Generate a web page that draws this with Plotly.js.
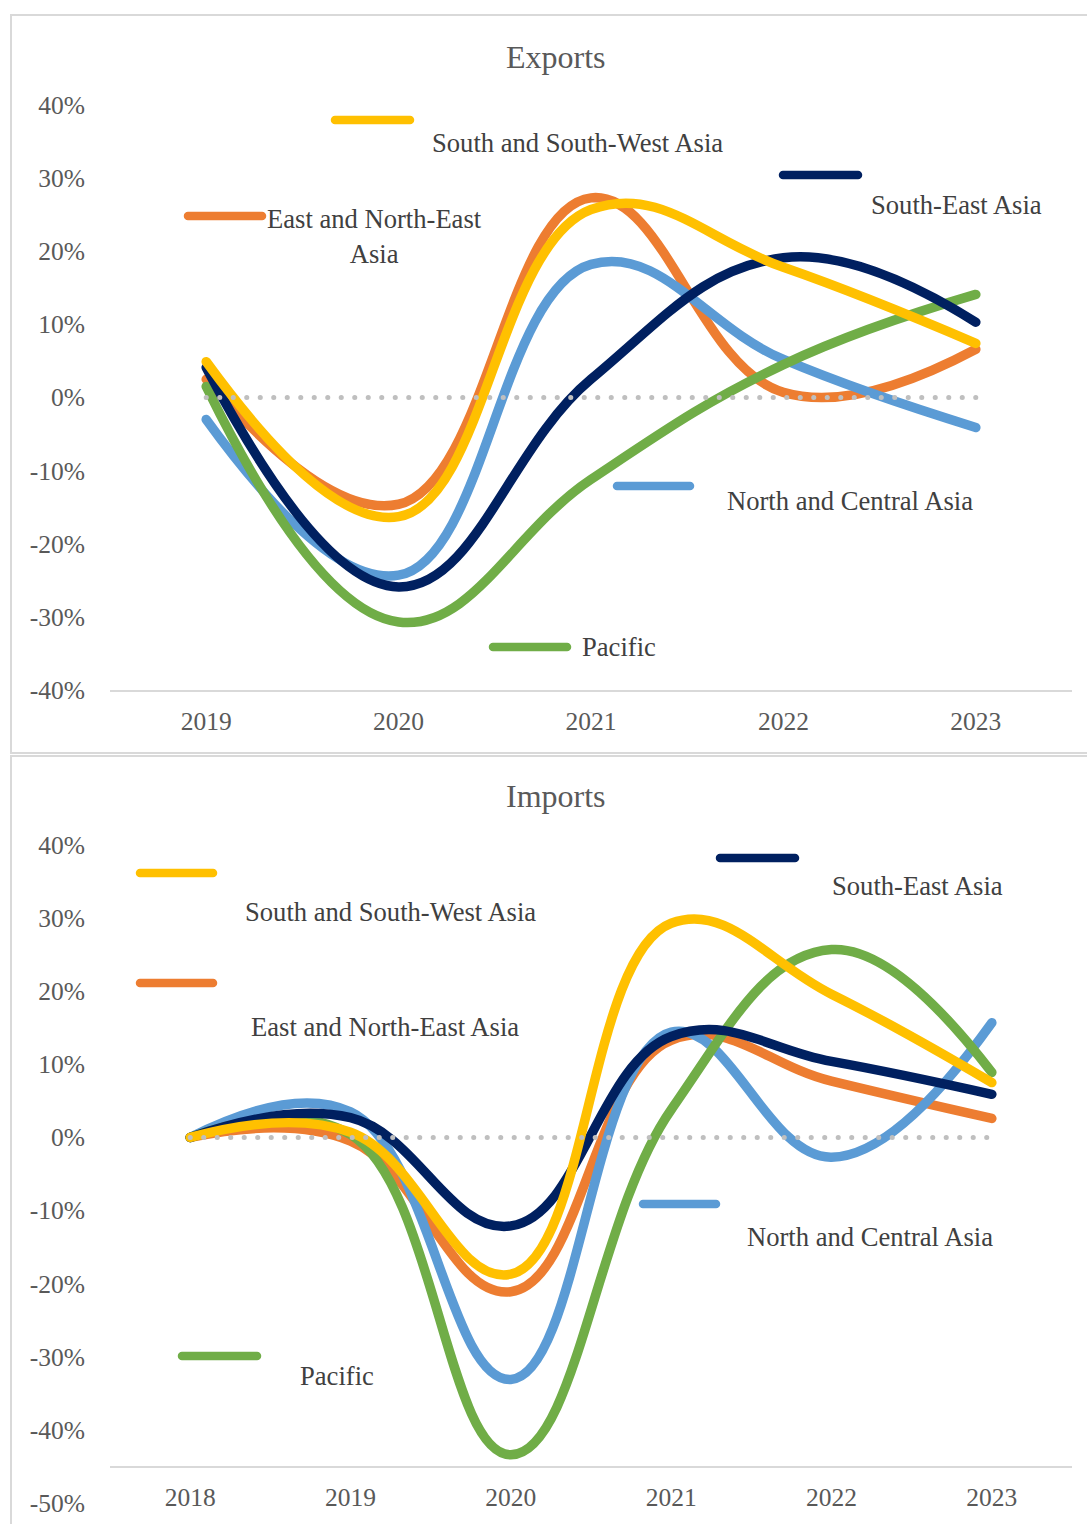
<!DOCTYPE html>
<html><head><meta charset="utf-8">
<script src="https://cdn.plot.ly/plotly-3.0.1.min.js"></script>
<style>html,body{margin:0;padding:0;background:#fff}</style>
</head><body><div id="chart" style="width:1087px;height:1524px"></div>
<script>
// ---- data ----
const exportYears = ['2019', '2020', '2021', '2022', '2023'];
const importYears = ['2018', '2019', '2020', '2021', '2022', '2023'];
const regions = ['East and North-East Asia', 'North and Central Asia', 'Pacific', 'South-East Asia', 'South and South-West Asia'];
const colors = ['#ED7D31', '#5B9BD5', '#70AD47', '#002060', '#FFC000'];
// Exports growth (%)
const expENEA = [2.5, -14.6, 27.3, 0.7, 6.6];
const expNCA = [-3.0, -24.3, 18.2, 5.2, -4.1];
const expPAC = [1.5, -30.7, -11.2, 4.5, 14.1];
const expSEA = [4.1, -25.9, 2.5, 19.1, 10.3];
const expSSWA = [4.9, -16.3, 25.7, 17.8, 7.4];
// Imports growth (%)
const impENEA = [0, -0.5, -21.1, 13.3, 7.7, 2.6];
const impNCA = [0, 3.5, -33.1, 14.4, -2.7, 15.7];
const impPAC = [0, 0.4, -43.4, 3.8, 25.7, 8.9];
const impSEA = [0, 2.7, -12.1, 13.8, 10.4, 5.9];
const impSSWA = [0, 0.7, -18.7, 29.3, 19.6, 7.5];
const expTickVals = [-40, -30, -20, -10, 0, 10, 20, 30, 40];
const expTickText = ['-40%', '-30%', '-20%', '-10%', '0%', '10%', '20%', '30%', '40%'];
const impTickVals = [-50, -40, -30, -20, -10, 0, 10, 20, 30, 40];
const impTickText = ['-50%', '-40%', '-30%', '-20%', '-10%', '0%', '10%', '20%', '30%', '40%'];

// ---- layout helpers ----
const W = 1087, H = 1524;
const px = x => x / W;
const py = y => 1 - y / H;
const TXT = '#595959';
const LTXT = '#404040';
const FONT = 'Liberation Serif, Times New Roman, serif';
const FS = 25.5;
const LFS = 26.6;
const LW = 9.5;
const SMOOTH = 1.2;

const expSeries = [expENEA, expNCA, expPAC, expSEA, expSSWA];
const impSeries = [impENEA, impNCA, impPAC, impSEA, impSSWA];

const traces = [];
expSeries.forEach((s, i) => traces.push({
  type: 'scatter', mode: 'lines', x: exportYears, y: s, name: regions[i],
  xaxis: 'x', yaxis: 'y', line: {color: colors[i], width: LW, shape: 'spline', smoothing: SMOOTH}, showlegend: false, hoverinfo: 'skip'
}));
traces.push({type: 'scatter', mode: 'lines', x: exportYears, y: exportYears.map(() => 0), xaxis: 'x', yaxis: 'y',
  line: {color: '#BFBFBF', width: 5, dash: '5px,8px'}, showlegend: false, hoverinfo: 'skip'});
impSeries.forEach((s, i) => traces.push({
  type: 'scatter', mode: 'lines', x: importYears, y: s, name: regions[i],
  xaxis: 'x2', yaxis: 'y2', line: {color: colors[i], width: LW, shape: 'spline', smoothing: SMOOTH}, showlegend: false, hoverinfo: 'skip'
}));
traces.push({type: 'scatter', mode: 'lines', x: importYears, y: importYears.map(() => 0), xaxis: 'x2', yaxis: 'y2',
  line: {color: '#BFBFBF', width: 5, dash: '5px,8px'}, showlegend: false, hoverinfo: 'skip'});

// legend placements: [lineX0, lineX1, lineY, textX, textY, anchor, label]
const expLegend = [
  [188, 262, 216, 374, 237, 'center', 'East and North-East<br>Asia'],
  [617, 690, 486, 725, 501, 'left', regions[1]],
  [493, 567, 647, 580, 647, 'left', regions[2]],
  [783, 858, 175, 869, 205, 'left', regions[3]],
  [335, 410, 120, 430, 143, 'left', regions[4]]
];
const impLegend = [
  [140, 213, 983, 249, 1027, 'left', regions[0]],
  [643, 716, 1204, 745, 1237, 'left', regions[1]],
  [182, 257, 1356, 298, 1376, 'left', regions[2]],
  [720, 795, 858, 830, 886, 'left', regions[3]],
  [140, 213, 873, 243, 912, 'left', regions[4]]
];

const shapes = [
  {type: 'rect', xref: 'paper', yref: 'paper', x0: px(11), x1: px(1095), y0: py(15), y1: py(753), line: {color: '#D9D9D9', width: 2}},
  {type: 'rect', xref: 'paper', yref: 'paper', x0: px(11), x1: px(1095), y0: py(756), y1: py(1535), line: {color: '#D9D9D9', width: 2}}
];
const annotations = [
  {xref: 'paper', yref: 'paper', x: px(556), y: py(57), text: 'Exports', showarrow: false, xanchor: 'center', yanchor: 'middle', font: {family: FONT, size: 32, color: TXT}},
  {xref: 'paper', yref: 'paper', x: px(556), y: py(796), text: 'Imports', showarrow: false, xanchor: 'center', yanchor: 'middle', font: {family: FONT, size: 32, color: TXT}}
];
[expLegend, impLegend].forEach(leg => leg.forEach((l, i) => {
  const c = colors[i];
  shapes.push({type: 'line', xref: 'paper', yref: 'paper', x0: px(l[0]), x1: px(l[1]), y0: py(l[2]), y1: py(l[2]), line: {color: c, width: 8.5}});
  annotations.push({xref: 'paper', yref: 'paper', x: px(l[3]), y: py(l[4]), text: l[6], showarrow: false,
    xanchor: l[5], yanchor: 'middle', align: 'center', font: {family: FONT, size: LFS, color: LTXT}});
}));

const axisFont = {family: FONT, size: FS, color: TXT};
const layout = {
  width: W, height: H, margin: {l: 0, r: 0, t: 0, b: 0},
  paper_bgcolor: '#fff', plot_bgcolor: 'rgba(0,0,0,0)', showlegend: false,
  xaxis: {domain: [px(110), px(1072)], anchor: 'y', type: 'category', range: [-0.5, 4.5], showline: true, linecolor: '#D9D9D9', linewidth: 2,
    ticks: '', showgrid: false, zeroline: false, tickfont: axisFont, ticklabelstandoff: 7, fixedrange: true},
  yaxis: {domain: [py(690), py(105)], anchor: 'x', range: [-40, 40], showline: false, showgrid: false, zeroline: false, ticks: '',
    tickvals: expTickVals, ticktext: expTickText, tickfont: axisFont, ticklabelstandoff: 24, fixedrange: true},
  xaxis2: {domain: [px(110), px(1072)], anchor: 'free', position: py(1467), type: 'category', range: [-0.5, 5.5], showline: true, linecolor: '#D9D9D9', linewidth: 2,
    ticks: '', showgrid: false, zeroline: false, tickfont: axisFont, ticklabelstandoff: 7, fixedrange: true},
  yaxis2: {domain: [py(1503), py(845)], anchor: 'x2', range: [-50, 40], showline: false, showgrid: false, zeroline: false, ticks: '',
    tickvals: impTickVals, ticktext: impTickText, tickfont: axisFont, ticklabelstandoff: 24, fixedrange: true},
  shapes: shapes, annotations: annotations
};

Plotly.newPlot('chart', traces, layout, {staticPlot: true, displayModeBar: false}).then(gd => {
  document.querySelectorAll('.scatterlayer .js-line').forEach(p => {
    p.style.strokeLinecap = 'round';
    if (p.style.stroke && p.style.stroke.replace(/\s/g, '') === 'rgb(191,191,191)') {
      p.style.strokeDasharray = '0.1px,13.4px';
    }
  });
  document.querySelectorAll('.shapelayer path').forEach(p => { p.style.strokeLinecap = 'round'; });
});
</script>
</body></html>
